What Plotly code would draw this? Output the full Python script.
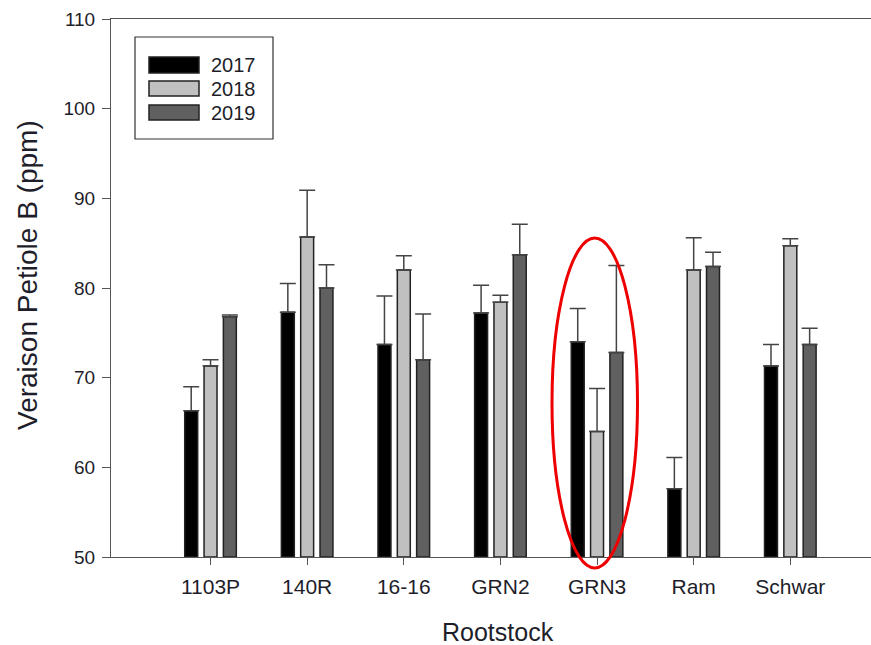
import plotly.graph_objects as go

categories = ["1103P", "140R", "16-16", "GRN2", "GRN3", "Ram", "Schwar"]
years = ["2017", "2018", "2019"]
vals_2017 = [66.3, 77.3, 73.7, 77.2, 74.0, 57.6, 71.3]
vals_2018 = [71.3, 85.7, 82.0, 78.4, 64.0, 82.0, 84.7]
vals_2019 = [76.8, 80.0, 72.0, 83.7, 72.8, 82.4, 73.7]
err_2017 = [2.7, 3.2, 5.4, 3.1, 3.7, 3.5, 2.4]
err_2018 = [0.7, 5.2, 1.6, 0.8, 4.8, 3.6, 0.8]
err_2019 = [0.2, 2.6, 5.1, 3.4, 9.7, 1.6, 1.8]
y_ticks = [50, 60, 70, 80, 90, 100, 110]

series = [vals_2017, vals_2018, vals_2019]
errors = [err_2017, err_2018, err_2019]
fills = ["#000000", "#c0c0c0", "#606060"]

W, H = 871, 645
PL, PT, PR, PB = 111, 19, 871, 557
ML, MT, MR, MB = PL, PT, W - PR, H - PB
PW, PH = PR - PL, PB - PT

def px_x(p):
    return (p - PL) / PW

def px_y(p):
    return (PB - p) / PH

fig = go.Figure()
xs = list(range(len(categories)))
for name, v, e, c in zip(years, series, errors, fills):
    fig.add_trace(go.Bar(
        x=xs, y=[val - 50 for val in v], base=50, name=name,
        marker=dict(color=c, line=dict(color="#222222", width=1.5)),
        error_y=dict(type="data", symmetric=False, array=e,
                     arrayminus=[0] * len(e), color="#444444",
                     thickness=1.5, width=8),
        showlegend=False,
    ))

font_family = "Liberation Sans, Arial, sans-serif"
txt = "#1e1e2a"
fig.update_layout(
    width=W, height=H,
    margin=dict(l=ML, r=MR, t=MT, b=MB),
    paper_bgcolor="white", plot_bgcolor="white",
    barmode="group", bargap=0.4, bargroupgap=0.33,
    font=dict(family=font_family, color=txt),
    xaxis=dict(
        range=[-1.03, 6.835], tickmode="array", tickvals=xs, ticktext=categories,
        showline=True, linecolor="#555555", linewidth=1, mirror=True,
        ticks="outside", ticklen=7, tickcolor="#555555", showgrid=False,
        zeroline=False, tickfont=dict(size=21, family=font_family, color=txt),
        ticklabelstandoff=4,
    ),
    yaxis=dict(
        range=[50, 110], tickmode="array", tickvals=y_ticks,
        showline=True, linecolor="#555555", linewidth=1,
        ticks="outside", ticklen=8, tickcolor="#555555", showgrid=False,
        zeroline=False, tickfont=dict(size=19, family=font_family, color=txt),
        ticklabelstandoff=3,
    ),
)

annotations = [
    dict(xref="paper", yref="paper", x=px_x(27), y=px_y(275), text="Veraison Petiole B (ppm)",
         textangle=-90, showarrow=False, xanchor="center", yanchor="middle",
         font=dict(size=28, family=font_family, color=txt)),
    dict(xref="paper", yref="paper", x=px_x(498), y=px_y(632), text="Rootstock",
         showarrow=False, xanchor="center", yanchor="middle",
         font=dict(size=25, family=font_family, color=txt)),
]

# custom legend
shapes = [dict(type="rect", xref="paper", yref="paper",
               x0=px_x(135), x1=px_x(273), y0=px_y(139), y1=px_y(37),
               line=dict(color="#333333", width=1.2), fillcolor="white")]
rows = [(57, 73), (81, 96), (105, 120)]
for (t, b), c, name in zip(rows, fills, years):
    shapes.append(dict(type="rect", xref="paper", yref="paper",
                       x0=px_x(149), x1=px_x(199), y0=px_y(b), y1=px_y(t),
                       fillcolor=c, line=dict(color="#222222", width=1.5)))
    annotations.append(dict(xref="paper", yref="paper", x=px_x(209), y=px_y((t + b) / 2),
                            text=name, showarrow=False, xanchor="left", yanchor="middle",
                            font=dict(size=20, family=font_family, color=txt)))

# red ellipse highlighting GRN3
shapes.append(dict(type="circle", xref="paper", yref="paper",
                   x0=px_x(552), x1=px_x(637.5), y0=px_y(568), y1=px_y(238),
                   line=dict(color="#ee0000", width=3)))

fig.update_layout(shapes=shapes, annotations=annotations)
fig.write_html(
    "out.html",
    config={"displayModeBar": False},
    post_script="document.body.style.margin='0';document.body.style.overflow='hidden';",
)
